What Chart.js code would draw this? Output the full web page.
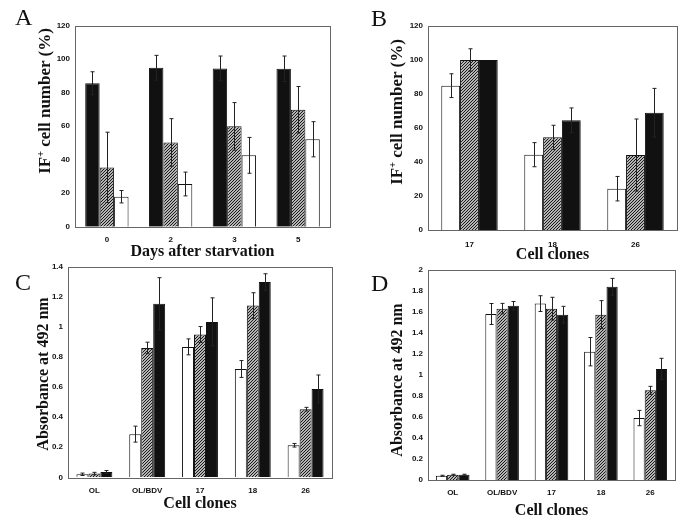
<!DOCTYPE html>
<html>
<head>
<meta charset="utf-8">
<script src="https://cdn.jsdelivr.net/npm/chart.js@4.4.0/dist/chart.umd.min.js"></script>
<style>
  body { margin: 0; background: #fff; }
  #wrap { position: relative; width: 686px; height: 526px; overflow: hidden; background: #fff; }
  canvas { position: absolute; }
  .letter { position: absolute; font-family: "Liberation Serif", serif; font-size: 24px; line-height: 1; color: #111; }
  .ytitle { position: absolute; font-family: "Liberation Serif", serif; font-weight: bold; font-size: 16px; color: #111;
            white-space: nowrap; transform: translate(-50%, -50%) rotate(-90deg); }
  .ytitle sup { font-size: 10px; }
</style>
</head>
<body>
<div id="wrap">
  <canvas id="chartA" width="343" height="265" style="left:0;top:0"></canvas>
  <canvas id="chartB" width="341" height="268" style="left:345px;top:0"></canvas>
  <canvas id="chartC" width="343" height="262" style="left:0;top:255px"></canvas>
  <canvas id="chartD" width="341" height="266" style="left:345px;top:258px"></canvas>

  <div class="letter" style="left:15px;top:5px">A</div>
  <div class="letter" style="left:371px;top:6px">B</div>
  <div class="letter" style="left:15px;top:270px">C</div>
  <div class="letter" style="left:371px;top:271px">D</div>

  <div class="ytitle" style="left:45px;top:101px;font-size:17px">IF<sup>+</sup> cell number (%)</div>
  <div class="ytitle" style="left:397px;top:112px;font-size:17px">IF<sup>+</sup> cell number (%)</div>
  <div class="ytitle" style="left:43px;top:374px">Absorbance at 492 nm</div>
  <div class="ytitle" style="left:397px;top:380px">Absorbance at 492 nm</div>
</div>
<script>
// ---- A: days after starvation ----
const aLabels = ['0', '2', '3', '5'];
const aBlack = [85.6, 94.9, 94.5, 94.3];
const aBlackErr = [6.9, 7.4, 7.4, 7.6];
const aHatch = [35.4, 50.3, 59.9, 69.8];
const aHatchErr = [21, 14.2, 14.2, 13.9];
const aWhite = [17.9, 25.5, 42.6, 52.2];
const aWhiteErr = [3.7, 7.1, 10.7, 10.5];

// ---- B: cell clones ----
const bLabels = ['17', '18', '26'];
const bWhite = [84.9, 44.3, 24.3];
const bWhiteErr = [7, 7.1, 7.2];
const bHatch = [100, 54.5, 44.1];
const bHatchErr = [6.6, 7.1, 21.2];
const bBlack = [100, 64.5, 69];
const bBlackErr = [0, 7.3, 14.3];

// ---- C: absorbance ----
const cLabels = ['OL', 'OL/BDV', '17', '18', '26'];
const cWhite = [0.02, 0.287, 0.867, 0.72, 0.213];
const cWhiteErr = [0.008, 0.053, 0.053, 0.056, 0.012];
const cHatch = [0.025, 0.86, 0.949, 1.142, 0.453];
const cHatchErr = [0.008, 0.038, 0.053, 0.085, 0.012];
const cBlack = [0.035, 1.153, 1.033, 1.298, 0.587];
const cBlackErr = [0.01, 0.174, 0.16, 0.055, 0.093];

// ---- D: absorbance ----
const dLabels = ['OL', 'OL/BDV', '17', '18', '26'];
const dWhite = [0.04, 1.581, 1.68, 1.222, 0.59];
const dWhiteErr = [0.005, 0.1, 0.075, 0.135, 0.073];
const dHatch = [0.05, 1.632, 1.632, 1.575, 0.854];
const dHatchErr = [0.005, 0.05, 0.108, 0.133, 0.038];
const dBlack = [0.05, 1.66, 1.575, 1.84, 1.057];
const dBlackErr = [0.005, 0.04, 0.079, 0.08, 0.102];

// fine diagonal hatch fill (reads as mid grey)
function makeHatch() {
    const c = document.createElement('canvas');
    c.width = 3; c.height = 3;
    const g = c.getContext('2d');
    g.fillStyle = '#b4b4b4';
    g.fillRect(0, 0, 3, 3);
    g.fillStyle = '#1a1a1a';
    for (let x = 0; x < 3; x++) g.fillRect(x, 2 - x, 1, 1);
    return g.createPattern(c, 'repeat');
}
const hatch = makeHatch();
const fills = { black: '#111', hatch: hatch, white: '#fff' };

// error bars drawn through the y scale
const errorBars = {
    id: 'errorBars',
    afterDatasetsDraw(chart) {
        const ctx = chart.ctx;
        const y = chart.scales.y;
        ctx.save();
        ctx.strokeStyle = '#222';
        ctx.lineWidth = 1;
        chart.data.datasets.forEach((ds, i) => {
            chart.getDatasetMeta(i).data.forEach((bar, j) => {
                const e = ds.errors[j];
                if (!e) return;
                const v = ds.data[j];
                const top = y.getPixelForValue(v + e);
                const bot = y.getPixelForValue(Math.max(0, v - e));
                const x = Math.round(bar.x) + 0.5;
                ctx.beginPath();
                ctx.moveTo(x, top); ctx.lineTo(x, bot);
                ctx.moveTo(x - 2, top); ctx.lineTo(x + 2, top);
                ctx.moveTo(x - 2, bot); ctx.lineTo(x + 2, bot);
                ctx.stroke();
            });
        });
        ctx.restore();
    }
};

// frame round the plot area
const frame = {
    id: 'frame',
    afterDraw(chart) {
        const a = chart.chartArea;
        const ctx = chart.ctx;
        ctx.save();
        ctx.strokeStyle = '#666';
        ctx.lineWidth = 1;
        ctx.strokeRect(Math.round(a.left) + 0.5, Math.round(a.top) + 0.5,
                       Math.round(a.right - a.left), Math.round(a.bottom - a.top));
        ctx.restore();
    }
};

function makePanel(id, labels, series, cfg) {
    new Chart(document.getElementById(id), {
        type: 'bar',
        data: {
            labels: labels,
            datasets: series.map(s => ({
                data: s[0],
                errors: s[1],
                backgroundColor: fills[s[2]],
                borderColor: '#111',
                borderWidth: 1,
                categoryPercentage: 0.68,
                barPercentage: 1
            }))
        },
        options: {
            responsive: false,
            animation: false,
            layout: { padding: { top: cfg.padTop, right: cfg.padRight, left: 0, bottom: 0 } },
            plugins: { legend: { display: false }, tooltip: { enabled: false } },
            scales: {
                x: {
                    grid: { display: false, drawTicks: false },
                    border: { display: false },
                    ticks: { color: '#111', padding: cfg.xPad, font: { family: 'Liberation Sans', weight: 'bold', size: 8 } },
                    title: {
                        display: true, text: cfg.xTitle, color: '#111',
                        padding: { top: 0, bottom: 4 },
                        font: { family: 'Liberation Serif', weight: 'bold', size: 16 }
                    },
                    afterFit: s => { s.height = cfg.xHeight; }
                },
                y: {
                    min: 0, max: cfg.yMax,
                    grid: { display: false, drawTicks: false },
                    border: { display: false },
                    ticks: {
                        stepSize: cfg.yStep, color: '#111', padding: 5,
                        font: { family: 'Liberation Sans', weight: 'bold', size: 8 },
                        callback: v => String(parseFloat(v.toFixed(2)))
                    },
                    afterFit: s => { s.width = cfg.yWidth; }
                }
            }
        },
        plugins: [errorBars, frame]
    });
}

makePanel('chartA', aLabels,
    [[aBlack, aBlackErr, 'black'], [aHatch, aHatchErr, 'hatch'], [aWhite, aWhiteErr, 'white']],
    { padTop: 25.7, padRight: 13, yWidth: 75, xHeight: 38.3, xPad: 8, yMax: 120, yStep: 20, xTitle: 'Days after starvation' });

makePanel('chartB', bLabels,
    [[bWhite, bWhiteErr, 'white'], [bHatch, bHatchErr, 'hatch'], [bBlack, bBlackErr, 'black']],
    { padTop: 26, padRight: 9, yWidth: 83, xHeight: 38, xPad: 10, yMax: 120, yStep: 20, xTitle: 'Cell clones' });

makePanel('chartC', cLabels,
    [[cWhite, cWhiteErr, 'white'], [cHatch, cHatchErr, 'hatch'], [cBlack, cBlackErr, 'black']],
    { padTop: 11.7, padRight: 11, yWidth: 68, xHeight: 39.7, xPad: 9, yMax: 1.4, yStep: 0.2, xTitle: 'Cell clones' });

makePanel('chartD', dLabels,
    [[dWhite, dWhiteErr, 'white'], [dHatch, dHatchErr, 'hatch'], [dBlack, dBlackErr, 'black']],
    { padTop: 12, padRight: 11, yWidth: 83, xHeight: 44, xPad: 8, yMax: 2, yStep: 0.2, xTitle: 'Cell clones' });
</script>
</body>
</html>
